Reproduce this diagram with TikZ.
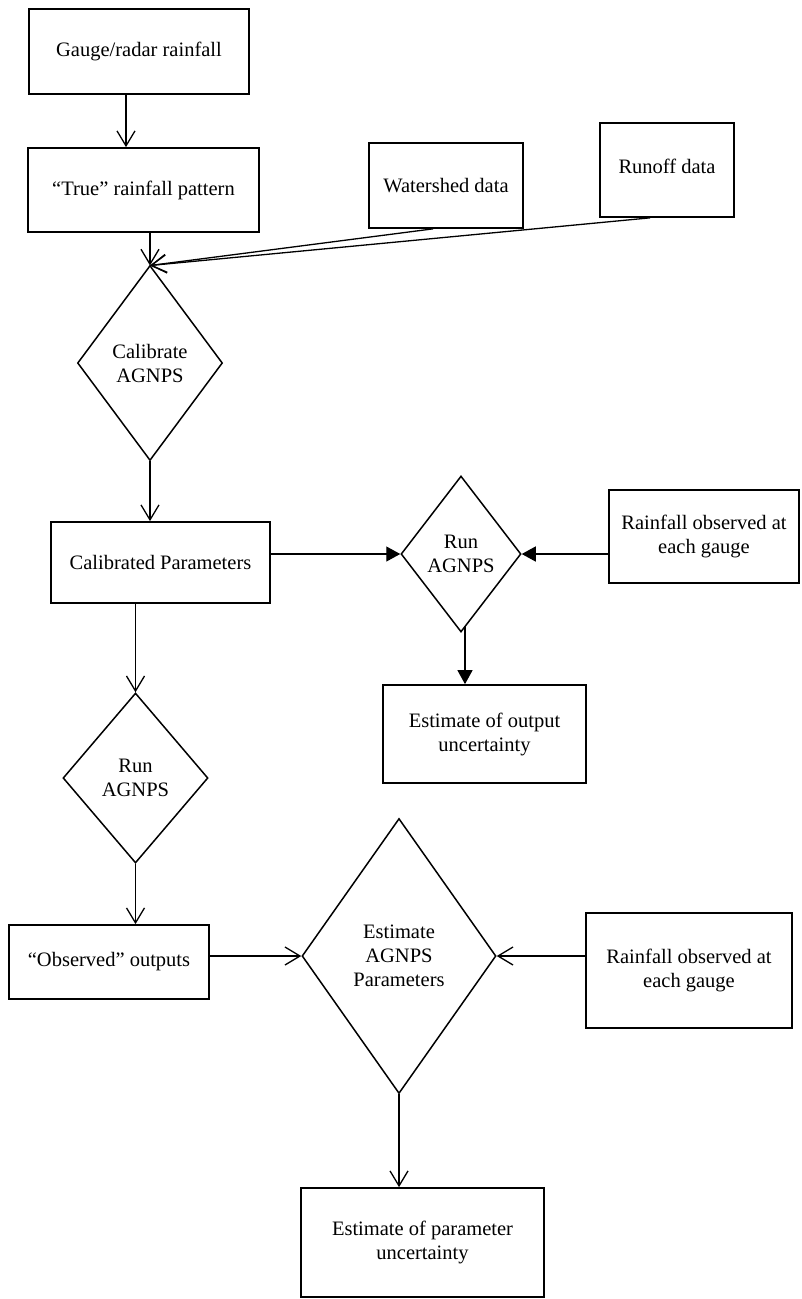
\documentclass[tikz,border=0pt]{standalone}
\usepackage{fontspec}
\setmainfont{Liberation Serif}
\usetikzlibrary{shapes.geometric,arrows.meta}
\begin{document}
\begin{tikzpicture}[x=1pt,y=-1pt,
  box/.style={draw,line width=1.7pt,inner sep=0pt,align=center,font=\fontsize{20.5}{24}\selectfont},
  dia/.style={draw,diamond,line width=1.5pt,inner sep=0pt,align=center,font=\fontsize{20.5}{24}\selectfont},
  con/.style={line width=1.3pt},
  oarr/.style={con,-{Straight Barb[length=15pt,width=18pt,line width=1.3pt]}},
  farr/.style={con,-{Triangle[length=14pt,width=15pt]}}]
\useasboundingbox (0,0) rectangle (801,1299);
% nodes
\node[box,minimum width=220pt,minimum height=85pt] (gauge) at (139,51.5) {Gauge/radar rainfall};
\node[box,minimum width=231pt,minimum height=84pt] (truep) at (143.5,190) {``True'' rainfall pattern};
\node[box,minimum width=154pt,minimum height=85pt] (water) at (446,185.5) {\raisebox{-5pt}{Watershed data}};
\node[box,minimum width=134pt,minimum height=94pt] (runoff) at (667,170) {\raisebox{8pt}{Runoff data}};
\node[dia,minimum width=145pt,minimum height=195pt] (calib) at (150,363) {Calibrate\\AGNPS};
\coordinate (conv) at (150,265.5);
\node[box,minimum width=219pt,minimum height=81pt] (calp) at (160.5,562.5) {Calibrated Parameters};
\node[dia,minimum width=120pt,minimum height=156pt] (run1) at (461,554) {Run\\AGNPS};
\node[box,minimum width=190pt,minimum height=93pt] (rain1) at (704,536.5) {Rainfall observed at\\each gauge};
\node[box,minimum width=203pt,minimum height=98pt] (estout) at (484.5,734) {Estimate of output\\uncertainty};
\node[dia,minimum width=145pt,minimum height=170pt] (run2) at (135.5,778) {Run\\AGNPS};
\node[box,minimum width=200pt,minimum height=74pt] (obs) at (109,962) {``Observed'' outputs};
\node[dia,minimum width=194pt,minimum height=275pt] (param) at (399,956) {Estimate\\AGNPS\\Parameters};
\node[box,minimum width=206pt,minimum height=115pt] (rain2) at (689,970.5) {Rainfall observed at\\each gauge};
\node[box,minimum width=243pt,minimum height=109pt] (estpar) at (422.5,1242.5) {Estimate of parameter\\uncertainty};
% connectors
\draw[oarr] ([xshift=-13pt]gauge.south) -- ([xshift=-17.5pt]truep.north);
\draw[oarr] (conv |- truep.south) -- (conv);
\draw[oarr] ([xshift=-13pt]water.south) -- (conv);
\draw[oarr] ([xshift=-17pt]runoff.south) -- (conv);
\draw[oarr] (calib.south) -- (calib.south |- calp.north);
\draw[farr] (calp.east |- run1.west) -- (run1.west);
\draw[farr] (rain1.west |- run1.east) -- (run1.east);
\draw[farr] ([xshift=4pt,yshift=6pt]run1.south) -- ([xshift=4pt]run1.south |- estout.north);
\draw[oarr] (run2.north |- calp.south) -- (run2.north);
\draw[oarr] (run2.south) -- (run2.south |- obs.north);
\draw[oarr] (obs.east |- param.west) -- (param.west);
\draw[oarr] (rain2.west |- param.east) -- (param.east);
\draw[oarr] (param.south) -- (param.south |- estpar.north);
\end{tikzpicture}
\end{document}
